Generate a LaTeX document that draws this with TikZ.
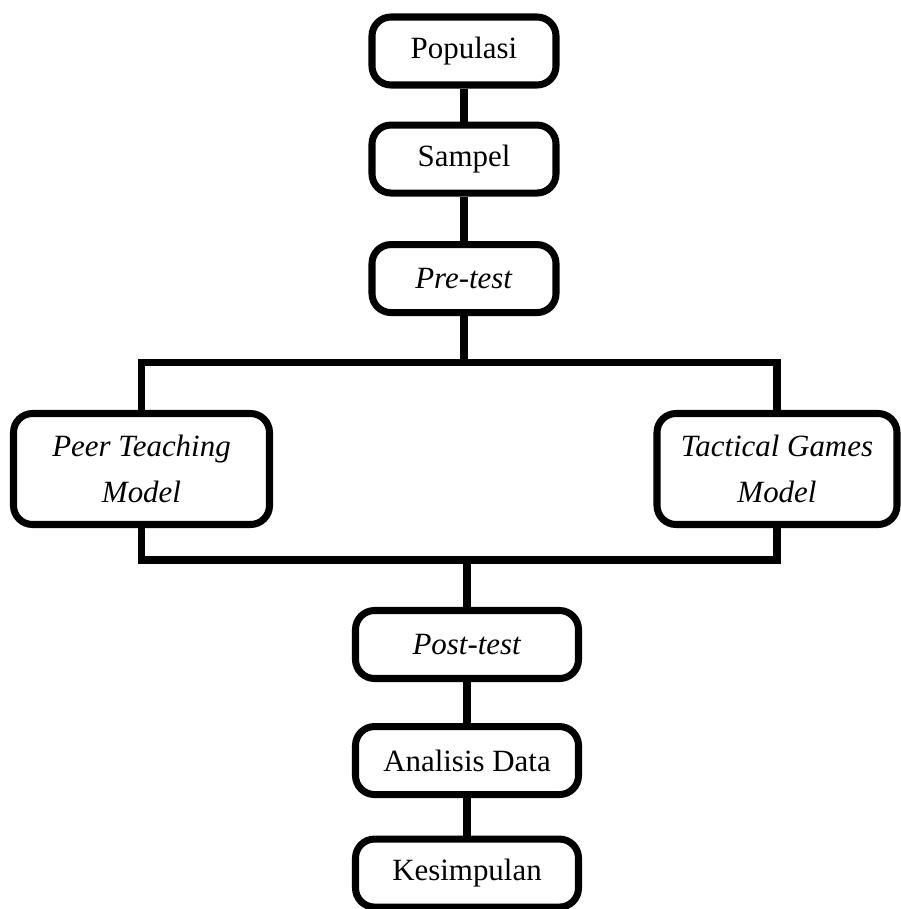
\documentclass[tikz,border=0pt]{standalone}
\usepackage{fontspec}
\setmainfont{Liberation Serif}
\usetikzlibrary{positioning}

\begin{document}
\begin{tikzpicture}[
    every node/.style={font=\fontsize{17.6}{26.5}\selectfont},
    box/.style={rectangle, rounded corners=0.38cm, draw=black, line width=4pt, minimum height=1.36cm, text centered, inner sep=2pt},
    model/.style={box, minimum height=2.22cm, align=center},
    link/.style={draw=black, line width=4pt}
]
\useasboundingbox (0,0) rectangle (18.02,-18.18);

\node (pop) [box, minimum width=3.68cm] at (9.28,-1.02) {Populasi};
\node (samp) [box, minimum width=3.68cm, below=0.66cm of pop] {Sampel};
\node (pre) [box, minimum width=3.68cm, below=0.89cm of samp] {\textit{Pre-test}};
\coordinate [below=0.92cm of pre] (split);

\node (peer) [model, minimum width=5.12cm] at (2.83,-9.38) {\textit{Peer Teaching}\\\textit{Model}};
\node (tac) [model, minimum width=4.8cm] at (15.54,-9.38) {\textit{Tactical Games}\\\textit{Model}};

\node (post) [box, minimum width=4.46cm] at (9.34,-12.89) {\textit{Post-test}};
\coordinate [above=0.94cm of post] (join);
\node (ana) [box, minimum width=4.46cm, below=0.82cm of post] {Analisis Data};
\node (kes) [box, minimum width=4.46cm, below=0.75cm of ana] {Kesimpulan};

\draw [link] (pop) -- (samp);
\draw [link] (samp) -- (pre);
\draw [link] (pre) -- (split);
\draw [link] (peer.north) |- (split) -| (tac.north);
\draw [link] (peer.south) |- (join) -| (tac.south);
\draw [link] (join) -- (post);
\draw [link] (post) -- (ana);
\draw [link] (ana) -- (kes);

\end{tikzpicture}
\end{document}
